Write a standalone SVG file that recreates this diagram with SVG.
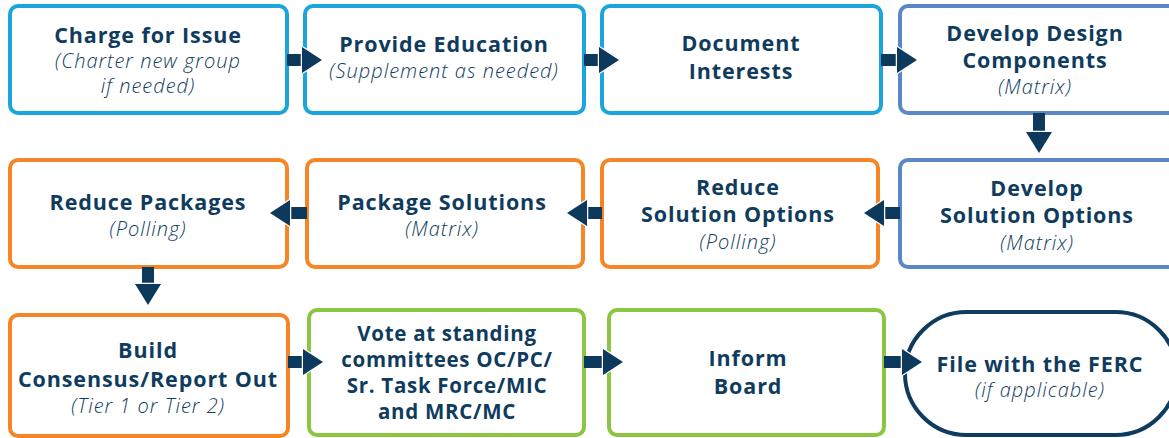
<svg xmlns="http://www.w3.org/2000/svg" width="1169" height="438" viewBox="0 0 1169 438">
<style>
.box{fill:#fff;stroke-width:4}
.lb{stroke:#1ca4dc}
.bl{stroke:#5c87c6}
.or{stroke:#f58525}
.gr{stroke:#8cc541}
.nv{stroke:#0f3c5e}
.t{font-family:"Open Sans",Lato,sans-serif;font-weight:700;font-size:21.5px;letter-spacing:0.9px;fill:#0f3c5e;text-anchor:middle}
.v{font-size:20.5px;letter-spacing:0.7px}
.s{font-family:"Open Sans",Lato,sans-serif;font-weight:300;font-style:italic;font-size:20px;letter-spacing:1px;fill:#0f3c5e;text-anchor:middle}
.sh{fill:#0d3a5c}
.hd{fill:#0d3a5c;stroke:#fff;stroke-width:2.5;paint-order:stroke;stroke-linejoin:miter}
</style>
<rect width="1169" height="438" fill="#fff"/>
<g id="n1"><rect class="box lb" x="10" y="6" width="277" height="107" rx="8"/>
<text class="t" x="148" y="43">Charge for Issue</text>
<text class="s" x="148" y="68">(Charter new group</text>
<text class="s" x="148" y="93">if needed)</text></g>
<g id="n2"><rect class="box lb" x="305" y="6" width="279" height="107" rx="8"/>
<text class="t" x="444" y="52">Provide Education</text>
<text class="s" x="444" y="78">(Supplement as needed)</text></g>
<g id="n3"><rect class="box lb" x="602" y="6" width="279" height="107" rx="8"/>
<text class="t" x="741" y="51">Document</text>
<text class="t" x="741" y="79">Interests</text></g>
<g id="n4"><rect class="box bl" x="900" y="6" width="280" height="107" rx="8"/>
<text class="t" x="1035" y="41">Develop Design</text>
<text class="t" x="1035" y="68">Components</text>
<text class="s" x="1035" y="94">(Matrix)</text></g>
<g id="n5"><rect class="box bl" x="900" y="160" width="280" height="107" rx="8"/>
<text class="t" x="1037" y="196">Develop</text>
<text class="t" x="1037" y="223">Solution Options</text>
<text class="s" x="1037" y="250">(Matrix)</text></g>
<g id="n6"><rect class="box or" x="602" y="160" width="276" height="107" rx="8"/>
<text class="t" x="738" y="195">Reduce</text>
<text class="t" x="738" y="222">Solution Options</text>
<text class="s" x="738" y="249">(Polling)</text></g>
<g id="n7"><rect class="box or" x="307" y="160" width="276" height="107" rx="8"/>
<text class="t" x="442" y="210">Package Solutions</text>
<text class="s" x="442" y="236">(Matrix)</text></g>
<g id="n8"><rect class="box or" x="10" y="160" width="277" height="107" rx="8"/>
<text class="t" x="148" y="210">Reduce Packages</text>
<text class="s" x="148" y="236">(Polling)</text></g>
<g id="n9"><rect class="box or" x="10" y="315" width="278" height="121" rx="8"/>
<text class="t" x="148" y="358">Build</text>
<text class="t" x="148" y="387">Consensus/Report Out</text>
<text class="s" x="148" y="413">(Tier 1 or Tier 2)</text></g>
<g id="n10"><rect class="box gr" x="309" y="310" width="275" height="125" rx="8"/>
<text class="t v" x="447" y="341">Vote at standing</text>
<text class="t v" x="447" y="367">committees OC/PC/</text>
<text class="t v" x="447" y="393">Sr. Task Force/MIC</text>
<text class="t v" x="447" y="419">and MRC/MC</text></g>
<g id="n11"><rect class="box gr" x="609" y="310" width="275" height="125" rx="8"/>
<text class="t" x="748" y="366">Inform</text>
<text class="t" x="748" y="394">Board</text></g>
<g id="n12"><rect class="box nv" x="905" y="312" width="272" height="123" rx="61.5"/>
<text class="t" x="1040" y="372">File with the FERC</text>
<text class="s" x="1040" y="397">(if applicable)</text></g>
<g id="connectors">
<rect class="sh" x="287" y="54" width="16" height="12"/><polygon class="hd" points="302,47 322,60 302,73"/>
<rect class="sh" x="584" y="54" width="16" height="12"/><polygon class="hd" points="599,47 619,60 599,73"/>
<rect class="sh" x="881" y="54" width="17" height="12"/><polygon class="hd" points="897,47 917,60 897,73"/>
<rect class="sh" x="1033" y="113" width="12" height="20"/><polygon class="hd" points="1026,132 1052,132 1039,153"/>
<rect class="sh" x="883" y="207" width="17" height="12"/><polygon class="hd" points="884,200 864,213 884,226"/>
<rect class="sh" x="586" y="207" width="16" height="12"/><polygon class="hd" points="587,200 567,213 587,226"/>
<rect class="sh" x="289" y="207" width="18" height="12"/><polygon class="hd" points="290,200 270,213 290,226"/>
<rect class="sh" x="142" y="267" width="12" height="18"/><polygon class="hd" points="135,284 161,284 148,305"/>
<rect class="sh" x="288" y="356" width="16" height="12"/><polygon class="hd" points="303,349 323,362 303,375"/>
<rect class="sh" x="584" y="356" width="20" height="12"/><polygon class="hd" points="603,349 623,362 603,375"/>
<rect class="sh" x="884" y="356" width="19" height="12"/><polygon class="hd" points="902,349 922,362 902,375"/>
</g>
</svg>
